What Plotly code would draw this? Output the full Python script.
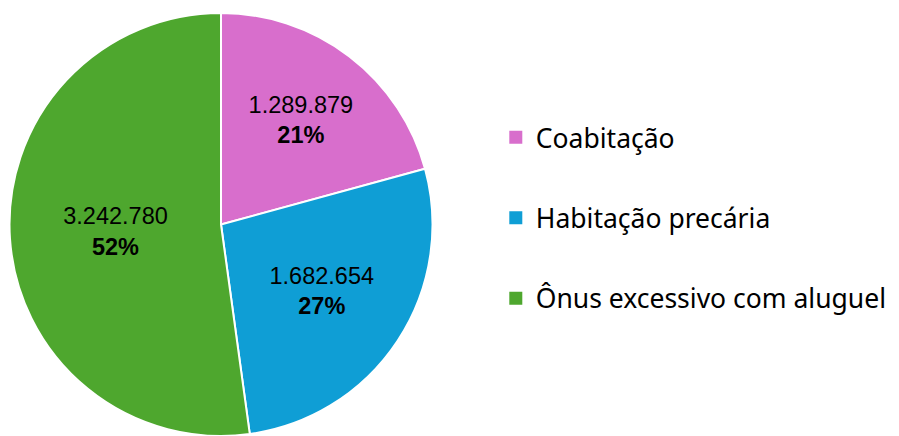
import plotly.graph_objects as go

categories = ["Coabitação", "Habitação precária", "Ônus excessivo com aluguel"]
values = [1289879, 1682654, 3242780]
colors = ["#D86ECC", "#0F9ED5", "#4EA72E"]

def fmt_br(v):
    return f"{v:,}".replace(",", ".")

total = sum(values)
texts = [f"{fmt_br(v)}<br><b>{round(100*v/total)}%</b>" for v in values]

fig = go.Figure()
fig.add_trace(go.Pie(
    labels=categories, values=values, sort=False, direction="clockwise", rotation=0,
    marker=dict(colors=colors, line=dict(color="white", width=2)),
    text=texts, textinfo="text", textposition="inside", insidetextorientation="horizontal",
    textfont=dict(family="Liberation Sans, Arial", size=23.5, color="black"),
    domain=dict(x=[9/899, 433/899], y=[0, 1-13/436]),
    showlegend=False, hoverinfo="label+value+percent",
))
for i, (c, col) in enumerate(zip(categories, colors)):
    fig.add_trace(go.Scatter(
        x=[None], y=[None], mode="markers", name=c, legendgroup=f"g{i}",
        marker=dict(symbol="square", size=13, color=col),
        showlegend=True,
    ))

fig.update_layout(
    width=899, height=436, margin=dict(l=0, r=0, t=0, b=0),
    paper_bgcolor="white", plot_bgcolor="white",
    xaxis=dict(visible=False), yaxis=dict(visible=False),
    legend=dict(x=0.5515, y=0.5, xanchor="left", yanchor="middle",
                font=dict(family="Noto Sans", size=26.5, color="black"),
                tracegroupgap=43, itemwidth=30),
)
fig.write_html("out.html")
